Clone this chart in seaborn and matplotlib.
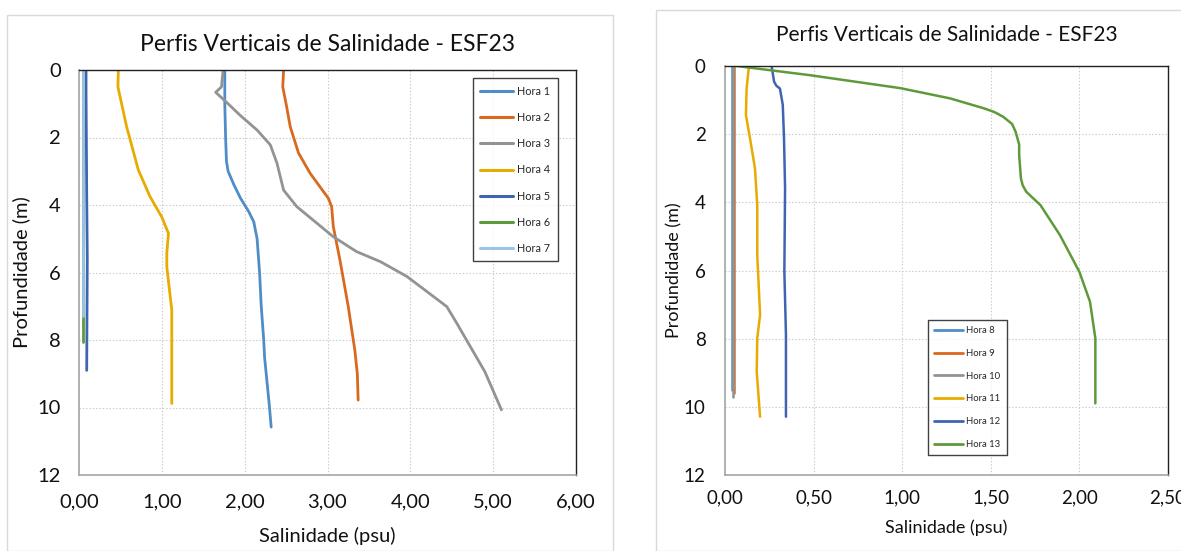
import numpy as np
import pandas as pd
import matplotlib
matplotlib.use("Agg")
import matplotlib.pyplot as plt
import seaborn as sns
from matplotlib.patches import Rectangle
from matplotlib.lines import Line2D
from matplotlib.ticker import FuncFormatter

# ---------------- data (left panel: Hora 1-7) ----------------
h1_depth = [0.0, 0.5, 1.0, 2.0, 2.7, 3.0, 3.4, 3.8, 4.2, 4.5, 5.0, 6.0, 7.0, 8.0, 8.5, 9.0, 9.5, 10.0, 10.58]
h1_sal   = [1.76, 1.76, 1.76, 1.77, 1.78, 1.80, 1.87, 1.95, 2.05, 2.11, 2.15, 2.18, 2.20, 2.23, 2.24, 2.26, 2.28, 2.30, 2.32]

h2_depth = [0.0, 0.5, 1.0, 1.68, 2.46, 3.06, 3.8, 4.05, 4.64, 5.63, 7.0, 8.3, 9.0, 9.78]
h2_sal   = [2.47, 2.46, 2.50, 2.55, 2.65, 2.79, 3.01, 3.05, 3.07, 3.15, 3.25, 3.33, 3.36, 3.37]

h3_depth = [0.0, 0.5, 0.66, 1.0, 1.33, 1.78, 2.22, 2.76, 3.56, 4.05, 4.94, 5.38, 5.68, 6.12, 7.01, 7.5, 8.94, 10.07]
h3_sal   = [1.74, 1.72, 1.65, 1.80, 1.94, 2.15, 2.31, 2.39, 2.47, 2.63, 3.07, 3.35, 3.64, 3.96, 4.44, 4.56, 4.90, 5.10]

h4_depth = [0.0, 0.5, 1.68, 2.96, 3.75, 4.35, 4.84, 5.43, 5.83, 7.11, 8.5, 9.88]
h4_sal   = [0.475, 0.47, 0.575, 0.716, 0.857, 0.998, 1.08, 1.06, 1.06, 1.12, 1.12, 1.12]

h5_depth = [0.0, 0.64, 3.65, 5.6, 8.9]
h5_sal   = [0.085, 0.085, 0.093, 0.10, 0.093]

h6_depth = [0.0, 8.05]
h6_sal   = [0.045, 0.045]

h7_depth = [0.0, 7.3]
h7_sal   = [0.045, 0.045]

# ---------------- data (right panel: Hora 8-13) ----------------
h8_depth = [0.0, 9.5]
h8_sal   = [0.040, 0.040]

h9_depth = [0.0, 9.6]
h9_sal   = [0.049, 0.049]

h10_depth = [0.0, 9.7]
h10_sal   = [0.043, 0.043]

h11_depth = [0.0, 0.66, 1.44, 2.12, 3.0, 4.08, 5.55, 7.3, 7.99, 8.97, 10.29]
h11_sal   = [0.135, 0.122, 0.118, 0.141, 0.169, 0.182, 0.182, 0.198, 0.182, 0.179, 0.198]

h12_depth = [0.0, 0.46, 0.58, 0.66, 1.14, 2.12, 3.59, 6.03, 7.89, 10.29]
h12_sal   = [0.263, 0.277, 0.29, 0.31, 0.326, 0.333, 0.339, 0.335, 0.344, 0.344]

h13_depth = [0.0, 0.27, 0.65, 0.95, 1.24, 1.35, 1.49, 1.7, 1.93, 2.3, 2.61, 3.3, 3.5, 3.69, 4.08, 4.96, 6.04, 6.92, 7.99, 9.9]
h13_sal   = [0.066, 0.48, 0.99, 1.27, 1.46, 1.52, 1.57, 1.62, 1.64, 1.66, 1.66, 1.67, 1.68, 1.70, 1.78, 1.89, 2.00, 2.06, 2.09, 2.09]

left_labels = ["Hora 1", "Hora 2", "Hora 3", "Hora 4", "Hora 5", "Hora 6", "Hora 7"]
right_labels = ["Hora 8", "Hora 9", "Hora 10", "Hora 11", "Hora 12", "Hora 13"]

left_series = [(h1_depth, h1_sal), (h2_depth, h2_sal), (h3_depth, h3_sal), (h4_depth, h4_sal),
               (h5_depth, h5_sal), (h6_depth, h6_sal), (h7_depth, h7_sal)]
right_series = [(h8_depth, h8_sal), (h9_depth, h9_sal), (h10_depth, h10_sal), (h11_depth, h11_sal),
                (h12_depth, h12_sal), (h13_depth, h13_sal)]

title = "Perfis Verticais de Salinidade - ESF23"
xlabel = "Salinidade (psu)"
ylabel = "Profundidade (m)"

colors7 = ["#4F8DC6", "#D9691F", "#939393", "#E8AC00", "#3F64B2", "#5E9A3A", "#9DC3E6"]
colors6 = ["#4F8DC6", "#D9691F", "#939393", "#E8AC00", "#3F64B2", "#5E9A3A"]


def to_df(labels, series):
    rows = []
    for lab, (d, s) in zip(labels, series):
        for i, (dd, ss) in enumerate(zip(d, s)):
            rows.append({"hora": lab, "depth": dd, "sal": ss, "i": i})
    return pd.DataFrame(rows)


sns.set_theme(style="white")
plt.rcParams["font.family"] = ["Lato", "DejaVu Sans"]

fig = plt.figure(figsize=(11.81, 5.51), dpi=100)
W, H = 1181, 551

# panel frames
fig.add_artist(Rectangle((7 / W, 0), (613 - 7) / W, 1 - 15 / H, transform=fig.transFigure,
                         fill=False, edgecolor="#D9D9D9", lw=1.0))
fig.add_artist(Rectangle((656 / W, 0), (W + 5 - 656) / W, 1 - 10 / H, transform=fig.transFigure,
                         fill=False, edgecolor="#D9D9D9", lw=1.0))

axL = fig.add_axes([79 / W, 1 - 475 / H, (576 - 79) / W, (475 - 70) / H])
axR = fig.add_axes([725 / W, 1 - 475 / H, (1168 - 725) / W, (475 - 66) / H])


def style_axis(ax, xmax, xstep, fs_tick, fs_lab, xpad, ypad, xlp, ylp):
    ax.set_xlim(0, xmax)
    ax.set_ylim(12, 0)
    ax.set_xticks(np.arange(0, xmax + 1e-9, xstep))
    ax.set_yticks(np.arange(0, 13, 2))
    ax.xaxis.set_major_formatter(FuncFormatter(lambda v, p: f"{v:.2f}".replace(".", ",")))
    ax.yaxis.set_major_formatter(FuncFormatter(lambda v, p: f"{int(round(v))}"))
    ax.grid(True, color="#C8C8C8", linestyle=(0, (1.2, 1.8)), linewidth=0.8)
    ax.tick_params(axis="both", length=0, labelsize=fs_tick, colors="#111111")
    ax.tick_params(axis="x", pad=xpad)
    ax.tick_params(axis="y", pad=ypad)
    for side in ["left", "bottom"]:
        ax.spines[side].set_color("#A6A6A6")
        ax.spines[side].set_linewidth(1.2)
    for side in ["top", "right"]:
        ax.spines[side].set_color("#222222")
        ax.spines[side].set_linewidth(1.0)
    ax.set_xlabel(xlabel, fontsize=fs_lab, color="#111111", labelpad=xlp)
    ax.set_ylabel(ylabel, fontsize=fs_lab, color="#111111", labelpad=ylp)


dfL = to_df(left_labels, left_series)
dfR = to_df(right_labels, right_series)

sns.lineplot(data=dfL, x="sal", y="depth", hue="hora", hue_order=left_labels,
             palette=colors7, sort=False, estimator=None, units="hora", lw=2.0, ax=axL, legend=False)
sns.lineplot(data=dfR, x="sal", y="depth", hue="hora", hue_order=right_labels,
             palette=colors6, sort=False, estimator=None, units="hora", lw=1.8, ax=axR, legend=False)

style_axis(axL, 6, 1.0, fs_tick=14.5, fs_lab=14.5, xpad=13, ypad=13, xlp=12, ylp=5)
style_axis(axR, 2.5, 0.5, fs_tick=13.5, fs_lab=13, xpad=10, ypad=14, xlp=10, ylp=1)

axL.set_title(title, fontsize=16.5, color="#111111", pad=14)
axR.set_title(title, fontsize=15, color="#111111", pad=18)

hL = [Line2D([0], [0], color=c, lw=2.2) for c in colors7]
hR = [Line2D([0], [0], color=c, lw=2.0) for c in colors6]
legL = axL.legend(hL, left_labels, loc="upper right", bbox_to_anchor=(0.974, 0.993),
                  fontsize=7.8, frameon=True, fancybox=False, edgecolor="#111111",
                  labelspacing=1.4, handlelength=3.0, handletextpad=0.4, borderpad=0.7)
legL.get_frame().set_linewidth(1.0)
legR = axR.legend(hR, right_labels, loc="upper left", bbox_to_anchor=(0.447, 0.391),
                  fontsize=6.8, frameon=True, fancybox=False, edgecolor="#111111",
                  labelspacing=1.45, handlelength=3.0, handletextpad=0.4, borderpad=0.7)
legR.get_frame().set_linewidth(1.0)

fig.savefig("out.png", dpi=100)
